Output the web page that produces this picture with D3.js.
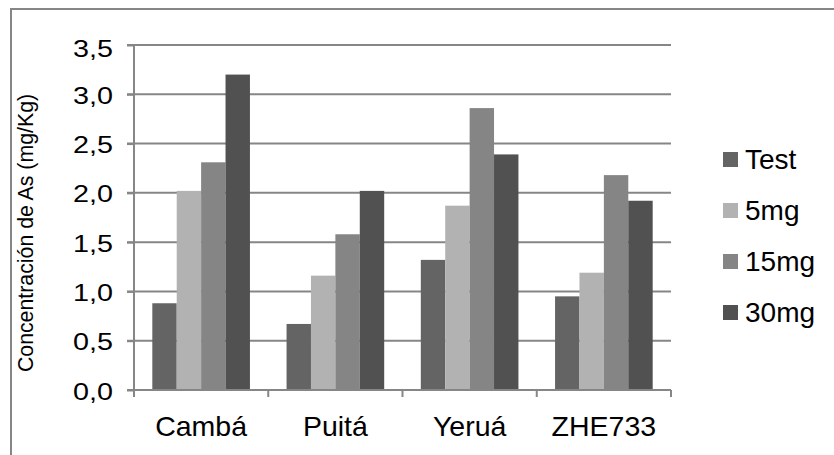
<!DOCTYPE html>
<html>
<head>
<meta charset="utf-8">
<script src="https://cdn.jsdelivr.net/npm/d3@7"></script>
<style>
  html, body { margin: 0; padding: 0; background: #fff; }
  svg { display: block; }
  text { font-family: "Liberation Sans", Arial, sans-serif; fill: #000; }
</style>
</head>
<body>
<svg id="chart" width="834" height="455"></svg>
<script>
const categories = ["Cambá", "Puitá", "Yeruá", "ZHE733"];
const seriesNames = ["Test", "5mg", "15mg", "30mg"];
const testValues = [0.88, 0.67, 1.32, 0.95];
const mg5Values = [2.02, 1.16, 1.87, 1.19];
const mg15Values = [2.31, 1.58, 2.86, 2.18];
const mg30Values = [3.20, 2.02, 2.39, 1.92];
const seriesColors = ["#646464", "#b2b2b2", "#858585", "#515151"];
const yTickValues = [0, 0.5, 1.0, 1.5, 2.0, 2.5, 3.0, 3.5];
const yTickLabels = ["0,0", "0,5", "1,0", "1,5", "2,0", "2,5", "3,0", "3,5"];
const yTitle = "Concentración de As (mg/Kg)";

const seriesValues = [testValues, mg5Values, mg15Values, mg30Values];

const svg = d3.select("#chart");
const gridColor = "#868686";

// outer border
svg.append("rect")
  .attr("x", 11).attr("y", 9)
  .attr("width", 840).attr("height", 460)
  .attr("fill", "none").attr("stroke", gridColor).attr("stroke-width", 2);

const plotLeft = 134, plotRight = 671, plotTop = 45, plotBottom = 390;

const x0 = d3.scaleBand().domain(categories).range([plotLeft, plotRight]).paddingInner(0).paddingOuter(0);
const x1 = d3.scaleBand().domain(seriesNames).range([0, x0.bandwidth()]).paddingInner(0).paddingOuter(0.75);
const y = d3.scaleLinear().domain([0, 3.5]).range([plotBottom, plotTop]);

// gridlines
svg.append("g")
  .selectAll("line")
  .data(yTickValues.filter(v => v > 0))
  .join("line")
  .attr("x1", plotLeft - 7).attr("x2", plotRight)
  .attr("y1", d => y(d)).attr("y2", d => y(d))
  .attr("stroke", gridColor).attr("stroke-width", 2);

// bars
const groups = svg.append("g")
  .selectAll("g")
  .data(categories)
  .join("g")
  .attr("transform", d => `translate(${x0(d)},0)`);

groups.selectAll("rect")
  .data((c, ci) => seriesNames.map((s, si) => ({ s, si, v: seriesValues[si][ci] })))
  .join("rect")
  .attr("x", d => x1(d.s))
  .attr("width", x1.bandwidth())
  .attr("y", d => y(d.v))
  .attr("height", d => y(0) - y(d.v))
  .attr("fill", d => seriesColors[d.si]);

// y axis
const yAxis = d3.axisLeft(y)
  .tickValues(yTickValues)
  .tickFormat((d, i) => yTickLabels[i])
  .tickSize(7)
  .tickPadding(0);
const yG = svg.append("g").attr("transform", `translate(${plotLeft},0)`).call(yAxis);
yG.select(".domain").attr("stroke", gridColor).attr("stroke-width", 2).attr("d", `M0,${plotTop}V${plotBottom}`);
yG.selectAll(".tick line").attr("stroke", gridColor).attr("stroke-width", 2);
yG.selectAll(".tick text")
  .attr("x", null).attr("dy", null)
  .attr("font-size", 23)
  .attr("text-anchor", "end")
  .attr("transform", (d, i) => `translate(-21,${i === yTickValues.length - 1 ? 11 : 9}) scale(1.25,1)`);

// x axis
const xAxis = d3.axisBottom(x0).tickSize(0).tickPadding(0);
const xG = svg.append("g").attr("transform", `translate(0,${plotBottom})`).call(xAxis);
xG.select(".domain").attr("stroke", gridColor).attr("stroke-width", 2).attr("d", `M${plotLeft - 7},0H${plotRight}`);
xG.selectAll(".tick text")
  .attr("y", 46).attr("dy", null)
  .attr("font-size", 28.5);
// category boundary ticks
const boundaries = categories.map(c => x0(c)).concat([x0(categories[categories.length - 1]) + x0.bandwidth()]);
xG.append("g").selectAll("line")
  .data(boundaries)
  .join("line")
  .attr("x1", d => d).attr("x2", d => d)
  .attr("y1", 0).attr("y2", 7)
  .attr("stroke", gridColor).attr("stroke-width", 2);

// y title
svg.append("text")
  .attr("transform", "translate(33,233) rotate(-90)")
  .attr("text-anchor", "middle")
  .attr("font-size", 21.3)
  .text(yTitle);

// legend
const legend = svg.append("g").attr("transform", "translate(723,152)");
const leg = legend.selectAll("g")
  .data(seriesNames)
  .join("g")
  .attr("transform", (d, i) => `translate(0,${i * 51})`);
leg.append("rect")
  .attr("width", 15).attr("height", 15)
  .attr("fill", (d, i) => seriesColors[i]);
leg.append("text")
  .attr("x", 22).attr("y", 17)
  .attr("font-size", 28)
  .text(d => d);
</script>
</body>
</html>
